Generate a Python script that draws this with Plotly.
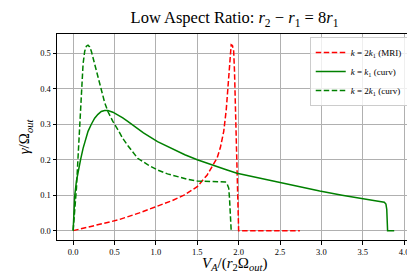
import plotly.graph_objects as go

# k = 2k1 (MRI)
mri_x = [0.0, 0.25, 0.54, 0.80, 1.02, 1.20, 1.34, 1.50, 1.62, 1.70, 1.74, 1.78, 1.82, 1.85, 1.87, 1.89, 1.90, 1.91, 1.925, 1.94, 1.95, 1.96, 1.97, 1.98, 1.99, 2.0, 2.74]
mri_y = [0.0, 0.013, 0.030, 0.050, 0.068, 0.085, 0.100, 0.124, 0.157, 0.188, 0.205, 0.235, 0.280, 0.340, 0.400, 0.470, 0.510, 0.524, 0.522, 0.506, 0.450, 0.355, 0.260, 0.167, 0.080, 0.0, 0.0]

# k = k1 (curv)
k1_x = [0.0, 0.01, 0.02, 0.04, 0.06, 0.09, 0.12, 0.15, 0.18, 0.22, 0.26, 0.30, 0.34, 0.38, 0.42, 0.48, 0.54, 0.60, 0.66, 0.75, 0.85, 1.02, 1.20, 1.35, 1.50, 1.70, 1.86, 1.98, 2.25, 2.50, 2.75, 2.98, 3.25, 3.50, 3.65, 3.76, 3.78, 3.79, 3.795, 3.80, 3.88]
k1_y = [0.0, 0.060, 0.100, 0.140, 0.167, 0.200, 0.232, 0.258, 0.280, 0.300, 0.317, 0.328, 0.336, 0.339, 0.339, 0.334, 0.327, 0.318, 0.308, 0.292, 0.276, 0.251, 0.230, 0.214, 0.200, 0.183, 0.171, 0.162, 0.148, 0.136, 0.124, 0.112, 0.100, 0.089, 0.084, 0.080, 0.075, 0.060, 0.030, 0.0, 0.0]

# k = 2k1 (curv)
k2_x = [0.0, 0.02, 0.04, 0.06, 0.08, 0.10, 0.12, 0.14, 0.16, 0.18, 0.20, 0.22, 0.26, 0.30, 0.34, 0.38, 0.42, 0.48, 0.54, 0.60, 0.66, 0.72, 0.78, 0.90, 1.02, 1.14, 1.26, 1.38, 1.50, 1.66, 1.80, 1.84, 1.86, 1.88, 1.89, 1.90, 1.91, 1.93]
k2_y = [0.0, 0.050, 0.120, 0.210, 0.310, 0.410, 0.470, 0.506, 0.520, 0.523, 0.518, 0.506, 0.468, 0.430, 0.393, 0.362, 0.336, 0.308, 0.285, 0.260, 0.240, 0.221, 0.204, 0.186, 0.171, 0.160, 0.152, 0.145, 0.140, 0.138, 0.138, 0.137, 0.132, 0.120, 0.090, 0.054, 0.0, 0.0]

x_ticks = [0.0, 0.5, 1.0, 1.5, 2.0, 2.5, 3.0, 3.5, 4.0]
y_ticks = [0.0, 0.1, 0.2, 0.3, 0.4, 0.5]

SERIF = "Liberation Serif, DejaVu Serif, serif"
DASH = "5.5px,2.5px"

fig = go.Figure()
fig.add_trace(go.Scatter(x=mri_x, y=mri_y, mode="lines", line=dict(color="red", width=1.5, dash=DASH),
                         name="<i>k</i> = 2<i>k</i><sub>1</sub> (MRI)"))
fig.add_trace(go.Scatter(x=k1_x, y=k1_y, mode="lines", line=dict(color="green", width=1.5),
                         name="<i>k</i> = <i>k</i><sub>1</sub> (curv)"))
fig.add_trace(go.Scatter(x=k2_x, y=k2_y, mode="lines", line=dict(color="green", width=1.5, dash=DASH),
                         name="<i>k</i> = 2<i>k</i><sub>1</sub> (curv)"))

fig.update_layout(
    width=415, height=277,
    margin=dict(l=49, r=11, t=26, b=45),
    plot_bgcolor="white", paper_bgcolor="white",
    font=dict(family=SERIF, size=9, color="black"),
    title=dict(text="Low Aspect Ratio: <i>r</i><sub>2</sub> − <i>r</i><sub>1</sub> = 8<i>r</i><sub>1</sub>",
               x=0.5, xref="paper", xanchor="center", y=0.965, yanchor="middle",
               font=dict(family=SERIF, size=16.5)),
    legend=dict(x=0.988, y=0.985, xanchor="right", yanchor="top",
                bgcolor="rgba(255,255,255,0.8)", bordercolor="#cccccc", borderwidth=1,
                font=dict(family=SERIF, size=9), tracegroupgap=0, itemwidth=30),
    showlegend=True,
    annotations=[
        dict(text="<i>V</i><sub><i>A</i></sub>/(<i>r</i><sub>2</sub>Ω<sub><i>out</i></sub>)",
             xref="paper", yref="paper", x=0.5, y=0, xanchor="center", yanchor="middle",
             yshift=-24, showarrow=False, font=dict(family=SERIF, size=15)),
    ],
)
fig.update_xaxes(range=[-0.195, 4.095], tickvals=x_ticks, ticktext=[f"{v:.1f}" for v in x_ticks],
                 showgrid=True, gridcolor="#b0b0b0", gridwidth=0.8, zeroline=False,
                 showline=True, linecolor="black", linewidth=1, mirror=True,
                 ticks="outside", ticklen=3.5, tickcolor="black", tickfont=dict(size=8.5))
fig.update_yaxes(range=[-0.0264, 0.5545], tickvals=y_ticks, ticktext=[f"{v:.1f}" for v in y_ticks],
                 showgrid=True, gridcolor="#b0b0b0", gridwidth=0.8, zeroline=False,
                 showline=True, linecolor="black", linewidth=1, mirror=True,
                 ticks="outside", ticklen=3.5, tickcolor="black", tickfont=dict(size=8.5),
                 title=dict(text="<i>γ</i>/Ω<sub><i>out</i></sub>",
                            font=dict(family=SERIF, size=15), standoff=6))

fig.write_html("out.html")
